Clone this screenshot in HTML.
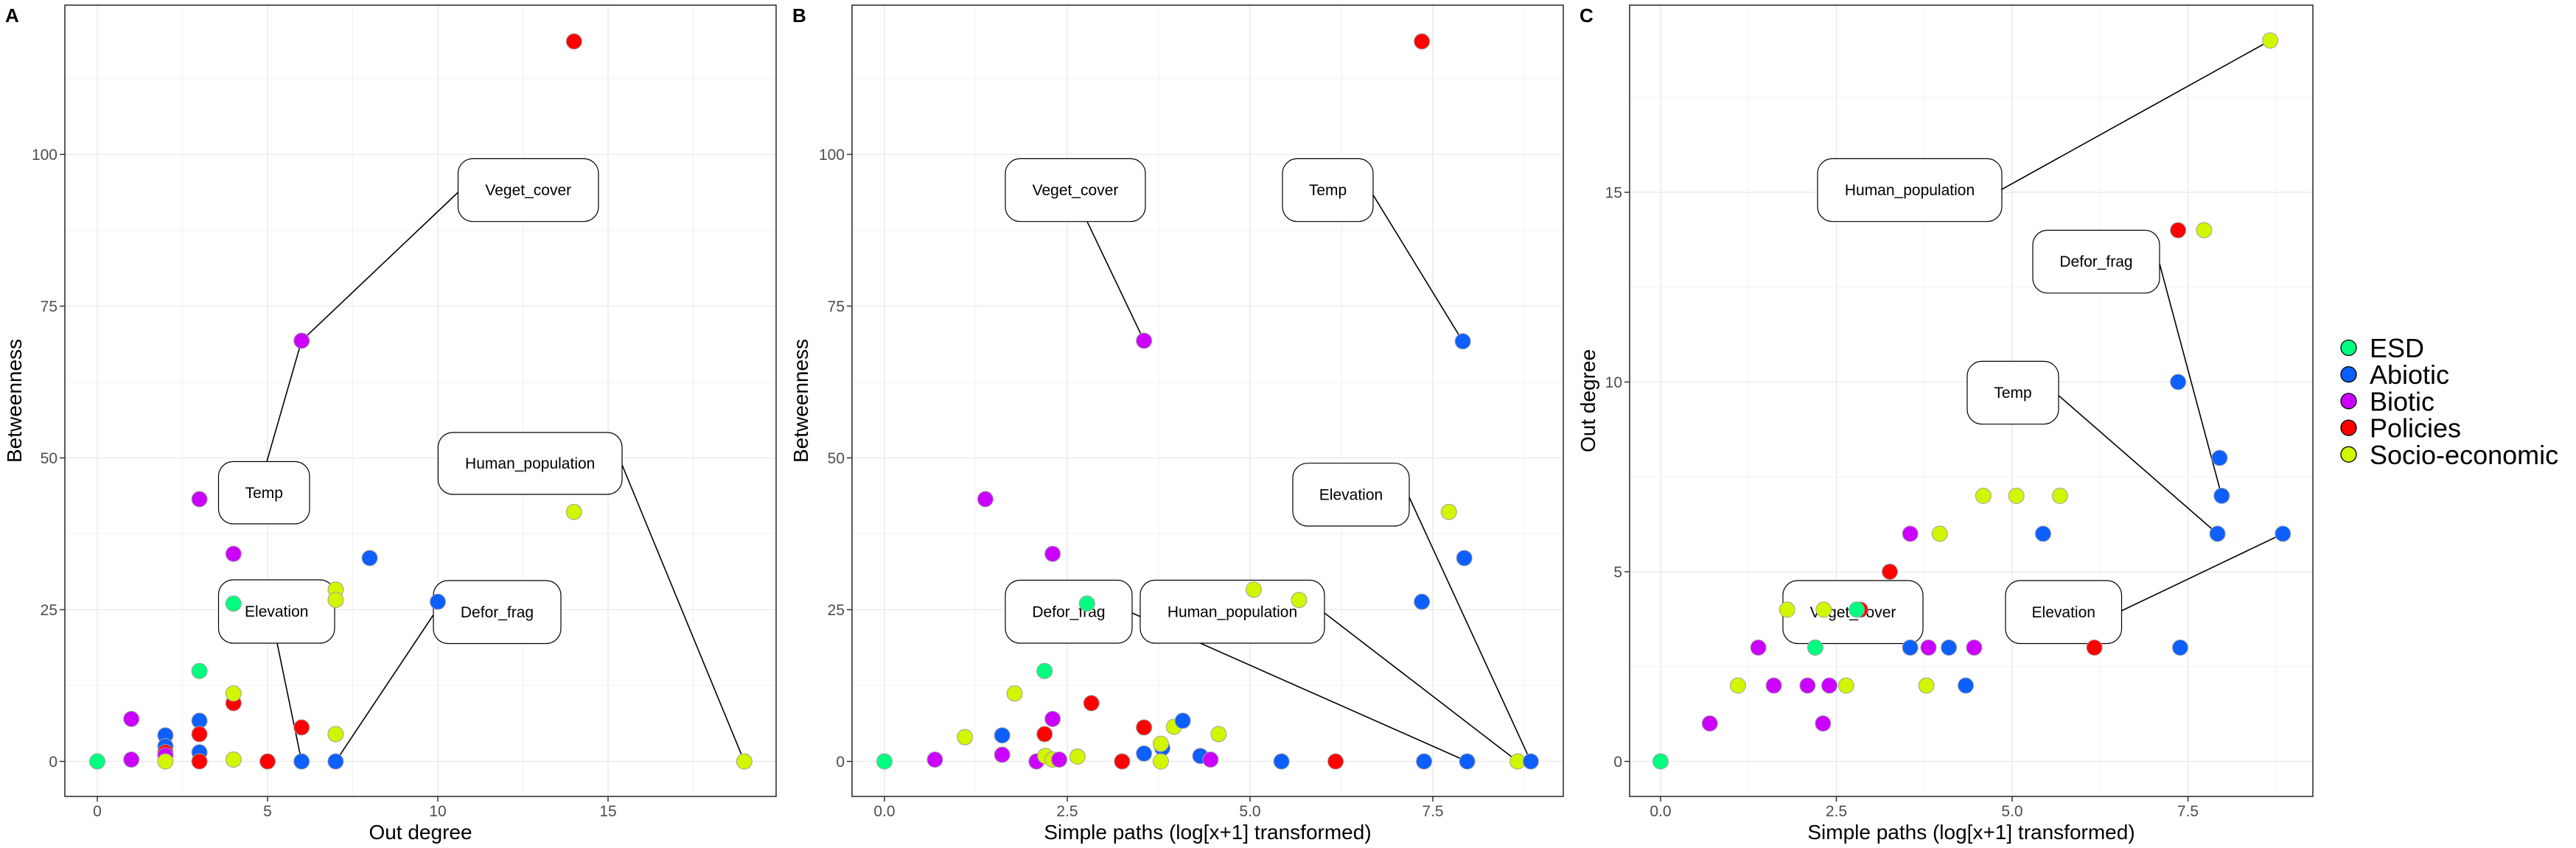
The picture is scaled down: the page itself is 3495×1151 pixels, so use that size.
<!DOCTYPE html>
<html><head><meta charset="utf-8">
<style>
html,body{margin:0;padding:0;background:#fff;}
svg{display:block;font-family:"Liberation Sans",Arial,sans-serif;}
</style></head>
<body>
<svg id="chart" width="3495" height="1151" viewBox="0 0 3495 1151" xmlns="http://www.w3.org/2000/svg"></svg>
<script>
// ---- Data ----
const categories = ['ESD','Abiotic','Biotic','Policies','Socio-economic'];
const catColors = ['#00ff80','#0d5fff','#cc00ff','#ff0000','#d2f500'];

// Panel A: Out degree vs Betweenness
const aX = [0,1,1,2,2,2,2,2,3,3,3,3,3,3,4,4,4,4,4,5,6,6,6,7,7,7,7,8,10,14,14,19];
const aY = [0,7,0.3,4.3,2.5,1.5,1,0,43.2,14.9,6.7,4.5,1.5,0,34.2,26,9.6,11.2,0.3,0,69.3,5.6,0,28.3,26.6,4.5,0,33.5,26.3,118.6,41.1,0];
const aC = [0,2,2,1,1,3,2,4,2,0,1,3,1,3,2,0,3,4,4,3,2,3,1,4,4,4,1,1,1,3,4,4];

// Panel B: Simple paths vs Betweenness
const bX = [0,0.69,1.1,1.38,1.61,1.61,1.78,2.08,2.19,2.19,2.2,2.3,2.3,2.3,2.39,2.64,2.77,2.83,3.25,3.55,3.55,3.55,3.8,3.78,3.78,3.96,4.08,4.32,4.46,4.57,5.05,5.43,5.67,6.17,7.35,7.35,7.38,7.72,7.91,7.93,7.97,8.66,8.84];
const bY = [0,0.3,4.0,43.2,4.3,1.1,11.2,0,14.9,4.5,0.9,34.2,7,0.3,0.3,0.8,26,9.6,0,69.3,5.6,1.3,2.2,2.9,0,5.7,6.7,0.9,0.3,4.5,28.3,0,26.6,0,118.6,26.3,0,41.1,69.2,33.5,0,0,0];
const bC = [0,2,4,2,1,2,4,2,0,3,4,2,2,4,2,4,0,3,3,2,3,1,1,4,4,4,1,1,2,4,4,1,4,3,3,1,1,4,1,1,1,4,1];

// Panel C: Simple paths vs Out degree
const cX = [0,0.7,2.31,1.1,1.61,2.09,2.4,2.64,3.78,4.34,1.39,2.2,3.55,3.81,4.1,4.46,6.17,7.39,1.8,2.32,2.84,2.79,3.26,3.55,3.97,5.44,7.92,8.85,4.59,5.06,5.68,7.98,7.95,7.36,7.36,7.73,8.67];
const cY = [0,1,1,2,2,2,2,2,2,2,3,3,3,3,3,3,3,3,4,4,4,4,5,6,6,6,6,6,7,7,7,7,8,10,14,14,19];
const cC = [0,2,2,4,2,2,2,4,4,1,2,0,1,2,1,2,3,1,4,4,3,0,3,2,4,1,1,1,4,4,4,1,1,1,3,4,4];

const aXTicks = [0,5,10,15];
const bXTicks = [0,2.5,5,7.5];
const betTicks = [0,25,50,75,100];
const outTicks = [0,5,10,15];

// ---- Drawing ----
const svg = document.getElementById('chart');
const NS = 'http://www.w3.org/2000/svg';
function mk(tag, attrs, parent){
  const e = document.createElementNS(NS, tag);
  for (const k in attrs) e.setAttribute(k, attrs[k]);
  (parent||svg).appendChild(e);
  return e;
}

function panel(cfg){
  const g = mk('g', {});
  
  
  const sx = v => cfg.x0px + (v - cfg.xv0) * cfg.xs;
  const sy = v => cfg.y0px - (v - cfg.yv0) * cfg.ys;
  const L = cfg.left, R = cfg.right, T = 7, B = 1081;
  for (let i = 0; i < cfg.xTicks.length; i++) {
    const m = cfg.xTicks[i] + cfg.xStep/2;
    if (sx(m) < R) { const l = mk('line',{x1:sx(m),x2:sx(m),y1:T,y2:B,stroke:'#f2f2f2','stroke-width':1},g);
        }
    if (i===0 && sx(cfg.xTicks[0]-cfg.xStep/2) > L) mk('line',{x1:sx(cfg.xTicks[0]-cfg.xStep/2),x2:sx(cfg.xTicks[0]-cfg.xStep/2),y1:T,y2:B,stroke:'#f2f2f2','stroke-width':1},g);
  }
  for (let i = 0; i < cfg.yTicks.length; i++) {
    const m = cfg.yTicks[i] + cfg.yStep/2;
    if (sy(m) > T) { const l = mk('line',{x1:L,x2:R,y1:sy(m),y2:sy(m),stroke:'#f2f2f2','stroke-width':1},g);
        }
  }
  cfg.xTicks.forEach(t => {
    const l = mk('line',{x1:sx(t),x2:sx(t),y1:T,y2:B,stroke:'#ebebeb','stroke-width':1.6},g);
     
    mk('line',{x1:sx(t),x2:sx(t),y1:B,y2:B+7,stroke:'#333','stroke-width':1.5},g);
    const tx = mk('text',{x:sx(t),y:1108,'font-size':21,fill:'#4d4d4d','text-anchor':'middle'},g);
    tx.textContent = cfg.xFmt(t);
     
  });
  cfg.yTicks.forEach(t => {
    const l = mk('line',{x1:L,x2:R,y1:sy(t),y2:sy(t),stroke:'#ebebeb','stroke-width':1.6},g);
     
    mk('line',{x1:L-7,x2:L,y1:sy(t),y2:sy(t),stroke:'#333','stroke-width':1.5},g);
    const tx = mk('text',{x:L-10,y:sy(t)+7.5,'font-size':21,fill:'#4d4d4d','text-anchor':'end'},g);
    tx.textContent = String(t);
     
  });
  cfg.labels.forEach(lb => {
    if (lb.tx !== undefined) {
      const ln = mk('line',{x1:lb.lx,y1:lb.ly,x2:sx(lb.tx),y2:sy(lb.ty),stroke:'#000','stroke-width':1.6},g);
       
    }
  });
  cfg.labels.forEach(lb => {
    const r = mk('rect',{x:lb.x0,y:lb.y0,width:lb.x1-lb.x0,height:lb.y1-lb.y0,rx:20,ry:20,fill:'#fff',stroke:'#000','stroke-width':1.2},g);
     
    const t = mk('text',{x:(lb.x0+lb.x1)/2,y:(lb.y0+lb.y1)/2+7,'font-size':21,fill:'#000','text-anchor':'middle'},g);
    t.textContent = lb.text;
     
  });
  for (let i = 0; i < cfg.X.length; i++) {
    const c = mk('circle',{cx:sx(cfg.X[i]),cy:sy(cfg.Y[i]),r:10.5,fill:catColors[cfg.C[i]],stroke:'#a0a0a0','stroke-width':1},g);
    
    
  }
  const bd = mk('rect',{x:L,y:T,width:R-L,height:B-T,fill:'none',stroke:'#333','stroke-width':1.6},g);
   
  const xt = mk('text',{x:(L+R)/2,y:1139,'font-size':28,fill:'#000','text-anchor':'middle'},g);
  xt.textContent = cfg.xTitle;
   
  const yt = mk('text',{x:0,y:0,'font-size':28,fill:'#000','text-anchor':'middle',transform:`translate(${cfg.yTitleX},544) rotate(-90)`},g);
  yt.textContent = cfg.yTitle;
   
  const pl = mk('text',{x:cfg.letterX,y:30,'font-size':26,'font-weight':'bold',fill:'#000'},g);
  pl.textContent = cfg.letter;
   
}

const fmt1 = v => v.toFixed(1);
const fmt0 = v => String(v);

panel({name:'panel-a', letter:'A', letterX:7, left:88, right:1053,
  x0px:132, xv0:0, xs:46.2, y0px:1033.5, yv0:0, ys:8.24,
  xTicks:aXTicks, xStep:5, yTicks:betTicks, yStep:25, xFmt:fmt0,
  X:aX, Y:aY, C:aC, xTitle:'Out degree', yTitle:'Betweenness', yTitleX:29,
  labels:[
    {text:'Veget_cover', x0:621.5,y0:215.4,x1:812,y1:300.7, lx:621.5,ly:261, tx:6,ty:69.3},
    {text:'Temp', x0:296.5,y0:626.5,x1:420,y1:711, lx:362,ly:626.5, tx:6,ty:69.3},
    {text:'Elevation', x0:296.5,y0:787,x1:454,y1:873, lx:376,ly:873, tx:6,ty:0},
    {text:'Defor_frag', x0:588,y0:788,x1:761,y1:873.5, lx:588,ly:834.6, tx:7,ty:0},
    {text:'Human_population', x0:594.4,y0:587,x1:844,y1:671, lx:844,ly:631, tx:19,ty:0}
  ]});

panel({name:'panel-b', letter:'B', letterX:1075, left:1156, right:2121,
  x0px:1200, xv0:0, xs:99.2, y0px:1033.5, yv0:0, ys:8.24,
  xTicks:bXTicks, xStep:2.5, yTicks:betTicks, yStep:25, xFmt:fmt1,
  X:bX, Y:bY, C:bC, xTitle:'Simple paths (log[x+1] transformed)', yTitle:'Betweenness', yTitleX:1096,
  labels:[
    {text:'Veget_cover', x0:1364,y0:215.4,x1:1554,y1:300.7, lx:1475,ly:300.7, tx:3.55,ty:69.3},
    {text:'Temp', x0:1740,y0:215.4,x1:1863,y1:300.7, lx:1863,ly:264.7, tx:7.91,ty:69.2},
    {text:'Elevation', x0:1754,y0:628.7,x1:1912,y1:714, lx:1912,ly:675, tx:8.84,ty:0},
    {text:'Defor_frag', x0:1364,y0:787.5,x1:1536,y1:873, lx:1536,ly:832, tx:7.97,ty:0},
    {text:'Human_population', x0:1547,y0:787.5,x1:1797,y1:873, lx:1797,ly:832, tx:8.66,ty:0}
  ]});

panel({name:'panel-c', letter:'C', letterX:2143, left:2211, right:3138,
  x0px:2253, xv0:0, xs:95.4, y0px:1033.5, yv0:0, ys:51.5,
  xTicks:bXTicks, xStep:2.5, yTicks:outTicks, yStep:5, xFmt:fmt1,
  X:cX, Y:cY, C:cC, xTitle:'Simple paths (log[x+1] transformed)', yTitle:'Out degree', yTitleX:2164,
  labels:[
    {text:'Human_population', x0:2466,y0:215.4,x1:2716,y1:300.7, lx:2716,ly:257, tx:8.67,ty:19},
    {text:'Defor_frag', x0:2758,y0:312.5,x1:2930,y1:397.8, lx:2930,ly:358, tx:7.98,ty:7},
    {text:'Temp', x0:2669,y0:490.4,x1:2793,y1:575.7, lx:2793,ly:536.8, tx:7.92,ty:6},
    {text:'Elevation', x0:2721,y0:788,x1:2878.5,y1:873.5, lx:2878.5,ly:829, tx:8.85,ty:6},
    {text:'Veget_cover', x0:2419,y0:788,x1:2609,y1:873.5}
  ]});

const lg = mk('g', {});


categories.forEach((c, i) => {
  const cy = 472 + i * 36.2;
  const d = mk('circle',{cx:3186.5,cy:cy,r:10.5,fill:catColors[i],stroke:'#000','stroke-width':1.3},lg);
  
  
  const t = mk('text',{x:3215,y:cy+13,'font-size':36,fill:'#000'},lg);
  t.textContent = c;
  
  
});
</script>
</body></html>
